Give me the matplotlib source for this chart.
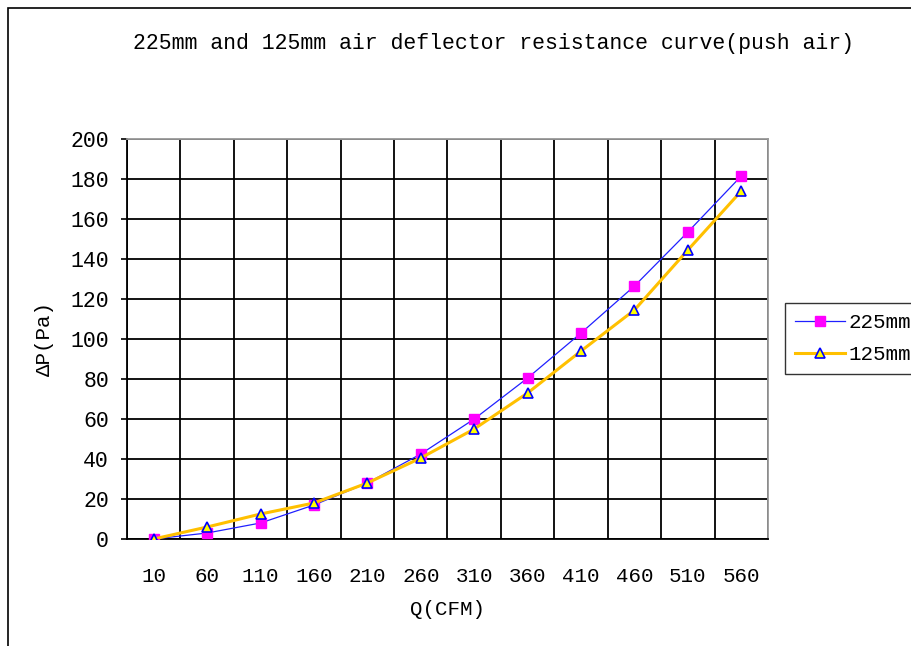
import numpy as np
import matplotlib.pyplot as plt
from matplotlib.patches import Rectangle

# donnees
q_cfm = [10, 60, 110, 160, 210, 260, 310, 360, 410, 460, 510, 560]
dp_225 = [0, 3, 8, 17, 28, 42.5, 60, 80.5, 103, 126.5, 153.5, 181.5]
dp_125 = [0, 6, 12.5, 18, 28, 40.5, 55, 73, 94, 114.5, 144.5, 174]
y_ticks = [0, 20, 40, 60, 80, 100, 120, 140, 160, 180, 200]

plt.rcParams['font.family'] = ['Liberation Mono', 'DejaVu Sans']

fig = plt.figure(figsize=(9.12, 6.46), dpi=100)
ax = fig.add_axes([127/912, 1-539/646, (768-127)/912, (539-139)/646])

# cadre exterieur
fig.patches.append(Rectangle((8/912, -0.1), 1.2, 1-8/646+0.1, transform=fig.transFigure,
                             fill=False, edgecolor='black', linewidth=1.2))

x = np.arange(len(q_cfm))
ax.plot(x, dp_225, color='#2020ff', linewidth=0.9, marker='s', markersize=7,
        markerfacecolor='#ff00ff', markeredgecolor='#ff00ff', label='225mm', zorder=3)
ax.plot(x, dp_125, color='#ffc000', linewidth=2.2, marker='^', markersize=7,
        markerfacecolor='#ffff00', markeredgecolor='#0000ff', markeredgewidth=1.2,
        label='125mm', zorder=4)

ax.set_xlim(-0.5, len(q_cfm) - 0.5)
ax.set_ylim(0, 200)
ax.set_yticks(y_ticks)
ax.set_xticks(x)
ax.set_xticklabels([str(v) for v in q_cfm])
ax.set_xticks(np.arange(len(q_cfm) + 1) - 0.5, minor=True)
ax.tick_params(axis='x', which='major', length=0, labelsize=15, pad=20)
ax.tick_params(axis='x', which='minor', length=0)
ax.tick_params(axis='y', length=4, width=1.2, labelsize=15.5, pad=9)
ax.grid(True, axis='y', which='major', color='black', linewidth=1.3)
ax.grid(True, axis='x', which='minor', color='black', linewidth=1.3)

for s in ['left', 'bottom']:
    ax.spines[s].set_color('black')
    ax.spines[s].set_linewidth(1.3)
for s in ['top', 'right']:
    ax.spines[s].set_color('#999999')
    ax.spines[s].set_linewidth(1.3)

ax.set_xlabel('Q(CFM)', fontsize=15, labelpad=10)
ax.set_ylabel('ΔP(Pa)', fontsize=15, labelpad=12)

fig.text(494/912, 1-43/646, '225mm and 125mm air deflector resistance curve(push air)',
         ha='center', va='center', fontsize=15.5)

ax.legend(loc='upper left', bbox_to_anchor=(785/912, 1-303/646), bbox_transform=fig.transFigure,
          frameon=True, fancybox=False, edgecolor='black', fontsize=15, handlelength=2.4,
          borderaxespad=0, labelspacing=0.6, handletextpad=0.15, borderpad=0.5)

plt.savefig('out.png', dpi=100)
